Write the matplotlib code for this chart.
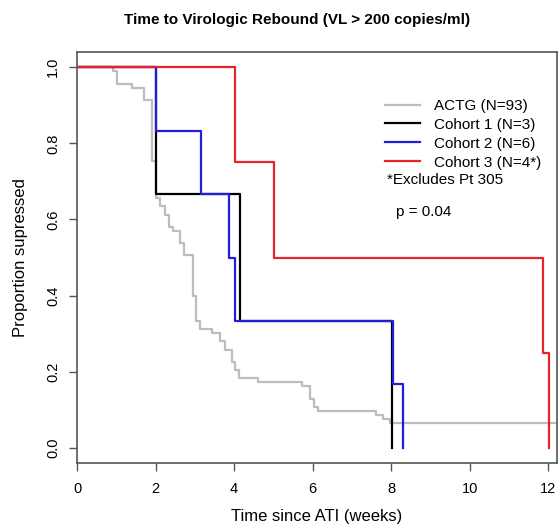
import matplotlib
matplotlib.use("Agg")
import matplotlib.pyplot as plt
import numpy as np

plt.rcParams['font.family'] = ['Liberation Sans', 'DejaVu Sans']

# --- data (weeks, proportion suppressed) ---
actg_t = [0, 0.91, 1.01, 1.40, 1.70, 1.92, 2.00, 2.11, 2.24, 2.33, 2.44, 2.62, 2.73,
          2.95, 3.02, 3.13, 3.43, 3.64, 3.77, 3.94, 4.03, 4.13, 4.62, 5.72, 5.92,
          6.04, 6.13, 7.62, 7.80, 7.97, 12.22]
actg_n = [93, 92, 89, 88, 85, 70, 61, 59, 57, 54, 53, 50, 47,
          37, 31, 29, 28, 26, 24, 21, 19, 17, 16, 15, 12,
          10, 9, 8, 7, 6, 6]
c1_t = [0, 2.0, 4.15, 8.02]
c1_s = [1, 2/3, 1/3, 0]
c2_t = [0, 2.0, 3.16, 3.87, 4.03, 8.05, 8.30]
c2_s = [1, 5/6, 4/6, 3/6, 2/6, 1/6, 0]
c3_t = [0, 4.03, 5.02, 11.87, 12.02]
c3_s = [1, 0.75, 0.5, 0.25, 0]

labels = ['ACTG (N=93)', 'Cohort 1 (N=3)', 'Cohort 2 (N=6)', 'Cohort 3 (N=4*)']
colors = ['#bdbdbd', 'black', '#1f1fd6', '#e8232a']
xticks = [0, 2, 4, 6, 8, 10, 12]
yticks = [0.0, 0.2, 0.4, 0.6, 0.8, 1.0]

fig = plt.figure(figsize=(5.58, 5.29), dpi=100)
fig.set_facecolor('white')
ax = fig.add_axes([77/558, 1 - 463/529, 480/558, 411/529])

actg_s = np.array(actg_n) / 93
series = [(actg_t, actg_s), (c1_t, c1_s), (c2_t, c2_s), (c3_t, c3_s)]
for (t, s), lab, col in zip(series, labels, colors):
    ax.step(t, s, where='post', color=col, linewidth=1.6, label=lab)

ax.set_xlim(0, 12.22)
ax.set_ylim(-0.04, 1.04)
ax.set_xticks(xticks)
ax.set_xticklabels([str(x) for x in xticks], fontsize=10.5)
ax.set_yticks(yticks)
ax.set_yticklabels(['%.1f' % y for y in yticks], fontsize=10.5, rotation=90, va='center')
ax.tick_params(axis='both', length=6, width=1, color='#555555', direction='out')
ax.tick_params(axis='x', pad=8)
ax.tick_params(axis='y', pad=6)
for sp in ax.spines.values():
    sp.set_color('#555555')
    sp.set_linewidth(1.2)

ax.set_xlabel('Time since ATI (weeks)', fontsize=12, labelpad=9)
ax.set_ylabel('Proportion supressed', fontsize=12, labelpad=13)
fig.text(297/558, 1 - 20/529, 'Time to Virologic Rebound (VL > 200 copies/ml)',
         fontsize=11, fontweight='bold', ha='center', va='center')

leg = ax.legend(loc='upper left', bbox_to_anchor=(0.642, 0.886), frameon=False,
                fontsize=11, handlelength=2.3, handletextpad=0.9,
                labelspacing=0.32, borderpad=0, borderaxespad=0)
ax.text(0.646, 0.689, '*Excludes Pt 305', transform=ax.transAxes,
        fontsize=11, va='center', ha='left')
ax.text(0.665, 0.611, 'p = 0.04', transform=ax.transAxes,
        fontsize=11, va='center', ha='left')

fig.savefig('out.png', dpi=100)
